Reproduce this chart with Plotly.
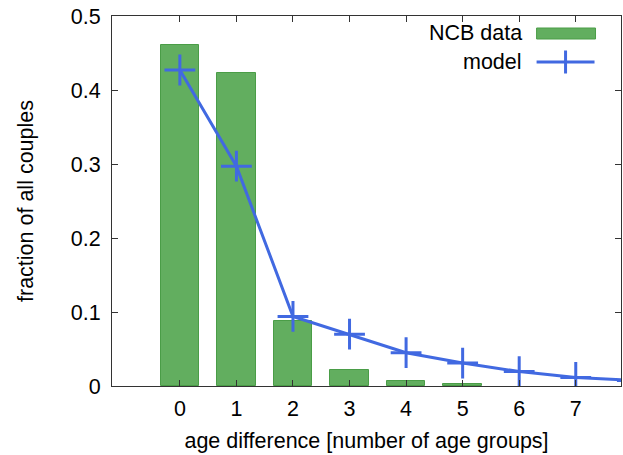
import plotly.graph_objects as go

ncb_x = [0, 1, 2, 3, 4, 5]
ncb_data = [0.461, 0.423, 0.088, 0.0215, 0.0072, 0.0023]
model_x = [0, 1, 2, 3, 4, 5, 6, 7, 8]
model_y = [0.427, 0.297, 0.094, 0.070, 0.045, 0.031, 0.0195, 0.0115, 0.0075]
x_ticks = [0, 1, 2, 3, 4, 5, 6, 7]
y_ticks = [0, 0.1, 0.2, 0.3, 0.4, 0.5]

GREEN = "#62ae5f"
GREEN_EDGE = "#4a9d47"
BLUE = "#4169e1"
FONT = "Liberation Sans"
FS = 21.5

fig = go.Figure()
fig.add_trace(go.Bar(
    x=ncb_x, y=ncb_data, width=0.68, name="NCB data",
    marker=dict(color=GREEN, line=dict(color=GREEN_EDGE, width=1)),
    showlegend=False,
))
fig.add_trace(go.Scatter(
    x=model_x, y=model_y, mode="lines+markers", name="model",
    line=dict(color=BLUE, width=3),
    marker=dict(symbol="cross-thin", size=22, line=dict(color=BLUE, width=3), color=BLUE),
    showlegend=False, cliponaxis=True,
))

# manual legend (gnuplot style: text left of key)
L, R, T, B = 112, 621.5, 16, 386
def px(x):
    return (x - L) / (R - L)
def py(y):
    return (B - y) / (B - T)

fig.add_annotation(x=px(524), y=py(33), xref="paper", yref="paper", text="NCB data",
                   showarrow=False, xanchor="right", yanchor="middle",
                   font=dict(family=FONT, size=FS, color="#000"))
fig.add_annotation(x=px(524), y=py(62), xref="paper", yref="paper", text="model",
                   showarrow=False, xanchor="right", yanchor="middle",
                   font=dict(family=FONT, size=FS, color="#000"))
fig.add_shape(type="rect", xref="paper", yref="paper",
              x0=px(537), x1=px(596), y0=py(39), y1=py(28),
              fillcolor=GREEN, line=dict(color=GREEN_EDGE, width=1))
fig.add_shape(type="line", xref="paper", yref="paper",
              x0=px(537), x1=px(595), y0=py(62), y1=py(62),
              line=dict(color=BLUE, width=3))
fig.add_shape(type="line", xref="paper", yref="paper",
              x0=px(566), x1=px(566), y0=py(50.5), y1=py(73.5),
              line=dict(color=BLUE, width=3))

fig.update_layout(
    width=623, height=455,
    margin=dict(l=112, r=1.5, t=16, b=69),
    plot_bgcolor="white", paper_bgcolor="white",
    font=dict(family=FONT, size=FS, color="#000"),
    bargap=0,
)
fig.update_xaxes(
    range=[-1.2, 7.8], tickvals=x_ticks, ticktext=[str(v) for v in x_ticks],
    ticks="inside", ticklen=6, tickcolor="#333", tickwidth=1,
    showline=True, linecolor="#333", linewidth=1, mirror="ticks",
    showgrid=False, zeroline=False, ticklabelstandoff=3,
    title=dict(text="age difference [number of age groups]", font=dict(size=FS), standoff=13),
    tickfont=dict(size=FS),
)
fig.update_yaxes(
    range=[0, 0.5], tickvals=y_ticks, ticktext=["0", "0.1", "0.2", "0.3", "0.4", "0.5"],
    ticks="inside", ticklen=6, tickcolor="#333", tickwidth=1,
    showline=True, linecolor="#333", linewidth=1, mirror="ticks",
    showgrid=False, zeroline=False, ticklabelstandoff=6,
    title=dict(text="fraction of all couples", font=dict(size=FS), standoff=31),
    tickfont=dict(size=FS),
)

fig.write_html("out.html")
